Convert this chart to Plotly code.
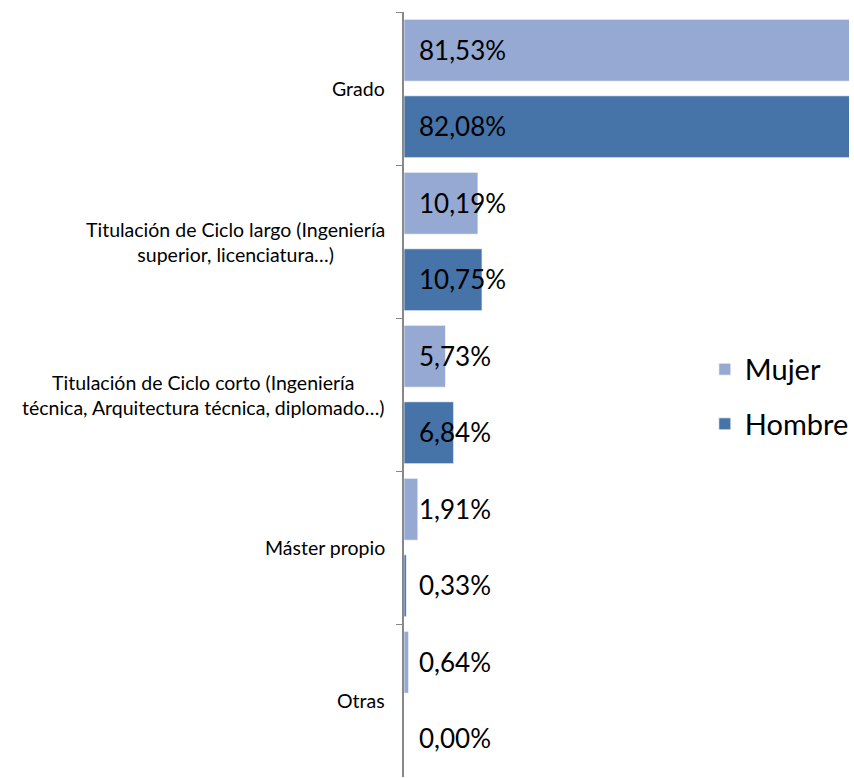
import plotly.graph_objects as go

categories = [
    "Grado",
    "Titulación de Ciclo largo (Ingeniería<br>superior, licenciatura…)",
    "Titulación de Ciclo corto (Ingeniería<br>técnica, Arquitectura técnica, diplomado…)",
    "Máster propio",
    "Otras",
]
mujer = [81.53, 10.19, 5.73, 1.91, 0.64]
hombre = [82.08, 10.75, 6.84, 0.33, 0.00]

COLORS = {"Mujer": "#95a9d2", "Hombre": "#4673a8"}
FONT = "Lato, Calibri, sans-serif"


def fmt(v):
    return f"{v:.2f}%".replace(".", ",")


fig = go.Figure()
for name, vals in (("Mujer", mujer), ("Hombre", hombre)):
    fig.add_trace(go.Bar(
        y=categories, x=vals, name=name, orientation="h", legendgroup=name,
        marker=dict(color=COLORS[name], line=dict(color="rgba(255,255,255,0.7)", width=1)),
        hoverinfo="skip",
    ))

# value labels near the axis (Excel "inside base" style)
annotations = []
for vals, shift in ((mujer, 39), (hombre, -37)):
    for cat, v in zip(categories, vals):
        annotations.append(dict(
            x=0, y=cat, xref="x", yref="y", text=fmt(v), showarrow=False,
            xanchor="left", yanchor="middle", xshift=13, yshift=shift,
            font=dict(size=26, color="#000000", family=FONT),
        ))

# category labels, centred multi-line like the original
for cat in categories:
    annotations.append(dict(
        x=0, y=cat, xref="paper", yref="y", text=cat, showarrow=False,
        xanchor="right", yanchor="middle", align="center", xshift=-17,
        font=dict(size=19.5, color="#000000", family=FONT),
    ))

fig.update_layout(
    width=854, height=778,
    margin=dict(l=404, r=0, t=12, b=1),
    barmode="group", bargap=0, bargroupgap=0.19,
    plot_bgcolor="white", paper_bgcolor="white",
    font=dict(family=FONT, color="#000000"),
    showlegend=True,
    legend=dict(
        x=0.676, y=0.497, xanchor="left", yanchor="middle",
        font=dict(size=29, family=FONT), bgcolor="rgba(0,0,0,0)",
        traceorder="grouped", tracegroupgap=14,
    ),
    annotations=annotations,
)

fig.update_xaxes(range=[0, 61.3], visible=False, showgrid=False, zeroline=False)
fig.update_yaxes(
    autorange="reversed", showticklabels=False, showgrid=False,
    showline=True, linecolor="#888888", linewidth=2,
    ticks="outside", tickson="boundaries", ticklen=6, tickcolor="#888888", tickwidth=1,
)

# drop the default page margin so the 854x778 figure fills the window exactly
fig.write_html(
    "out.html",
    config={"displayModeBar": False},
    post_script="document.body.style.margin = '0';",
)
